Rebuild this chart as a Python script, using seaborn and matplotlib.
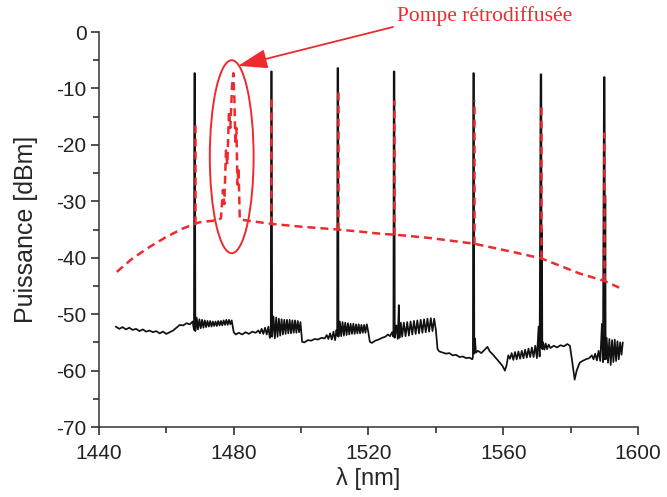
import matplotlib
matplotlib.use("Agg")
import matplotlib.pyplot as plt
from matplotlib.patches import Ellipse
from matplotlib.ticker import MultipleLocator
import seaborn as sns

# black trace: measured spectrum (wavelength nm, power dBm)
black_wl = [
    1445, 1446, 1447, 1448, 1449, 1450, 1451, 1452, 1453, 1454, 1455, 1456, 1457, 1458,
    1459, 1460, 1461, 1462, 1463, 1464, 1465, 1466, 1467, 1467.8,
    1468.2, 1468.3, 1468.5, 1468.6,
    1469.0, 1469.4, 1469.8, 1470.2, 1470.6, 1471.0, 1471.4, 1471.8, 1472.2, 1472.6, 1473.0,
    1473.4, 1473.8, 1474.2, 1474.6, 1475.0, 1475.4, 1475.8, 1476.2, 1476.6, 1477.0, 1477.4,
    1477.8, 1478.2, 1478.6, 1479.0, 1479.4,
    1480.0, 1480.6, 1481.5, 1482.5, 1483.5, 1484.5, 1485.5, 1486.5, 1487.3, 1487.8, 1488.3,
    1488.8, 1489.3, 1489.8, 1490.3, 1490.7,
    1491.0, 1491.1, 1491.3, 1491.4,
    1491.8, 1492.2, 1492.6, 1493.0, 1493.4, 1493.8, 1494.2, 1494.6, 1495.0, 1495.4, 1495.8,
    1496.2, 1496.6, 1497.0, 1497.4, 1497.8, 1498.2, 1498.6, 1499.0, 1499.4, 1499.8,
    1500.3, 1501.0, 1502.0, 1503.0, 1504.0, 1505.0, 1506.0, 1507.0, 1507.6, 1508.1, 1508.6,
    1509.1, 1509.6, 1510.1, 1510.5,
    1510.7, 1510.8, 1511.0, 1511.1,
    1511.5, 1511.9, 1512.3, 1512.7, 1513.1, 1513.5, 1513.9, 1514.3, 1514.7, 1515.1, 1515.5,
    1515.9, 1516.3, 1516.7, 1517.1, 1517.5, 1517.9, 1518.3, 1518.7, 1519.1, 1519.5, 1519.9,
    1520.4, 1521.0, 1522.0, 1523.0, 1524.0, 1525.0, 1525.8, 1526.4, 1527.0,
    1527.4, 1527.5, 1527.7, 1527.8, 1528.3, 1528.7, 1529.0, 1529.2,
    1529.6, 1530.0, 1530.5, 1531.0, 1531.5, 1532.0, 1532.5, 1533.0, 1533.5, 1534.0, 1534.5,
    1535.0, 1535.5, 1536.0, 1536.5, 1537.0, 1537.5, 1538.0, 1538.5, 1539.0, 1539.5, 1540.0,
    1540.5, 1541.0, 1542.0, 1543.0, 1544.0, 1545.0, 1546.0, 1547.0, 1548.0, 1549.0, 1550.0,
    1550.8,
    1551.0, 1551.1, 1551.3, 1551.4, 1551.6, 1551.9,
    1552.5, 1553.5, 1554.5, 1555.3, 1556.0, 1557.0, 1558.0, 1559.0, 1559.8, 1560.5, 1561.0,
    1561.5,
    1562.0, 1562.5, 1563.0, 1563.5, 1564.0, 1564.5, 1565.0, 1565.5, 1566.0, 1566.5, 1567.0,
    1567.5, 1568.0, 1568.5, 1569.0, 1569.5, 1570.0, 1570.5, 1570.8,
    1571.1, 1571.3, 1571.4, 1571.5, 1571.6,
    1571.8, 1572.2, 1572.6, 1573.0, 1573.5, 1574.0, 1575.0, 1576.0, 1577.0, 1578.0, 1579.0,
    1579.8, 1580.5, 1581.2, 1581.8, 1582.7, 1583.5, 1584.5, 1585.5, 1586.3, 1586.8, 1587.3,
    1587.8, 1588.3, 1588.8, 1589.3, 1589.6,
    1589.9, 1590.1, 1590.2, 1590.3, 1590.4,
    1590.7, 1591.1, 1591.5, 1591.9, 1592.3, 1592.7, 1593.1, 1593.5, 1593.9, 1594.3, 1594.7,
    1595.1, 1595.5,
]
black_db = [
    -52.2, -52.6, -52.3, -52.7, -52.4, -52.8, -52.6, -53.0, -52.7, -53.1, -52.9, -53.2, -53.0, -53.4,
    -53.1, -53.5, -53.2, -52.9, -52.4, -51.9, -52.0, -51.6, -51.8, -51.3,
    -52.8, -7.3, -7.3, -53.0,
    -50.6, -52.7, -50.9, -52.5, -51.0, -52.4, -51.1, -52.3, -51.2, -52.2, -51.2,
    -52.2, -51.3, -52.1, -51.3, -52.1, -51.2, -52.0, -51.2, -52.0, -51.1, -51.9,
    -51.0, -51.9, -51.0, -51.8, -51.1,
    -53.2, -53.6, -53.3, -53.6, -53.2, -53.5, -53.1, -53.3, -52.9, -53.4, -52.6,
    -53.5, -52.4, -53.6, -52.2, -54.2,
    -53.5, -7.0, -7.0, -54.0,
    -50.4, -54.3, -50.6, -54.0, -50.8, -53.8, -50.9, -53.6, -51.0, -53.5, -51.0,
    -53.4, -51.0, -53.4, -51.1, -53.3, -51.1, -53.3, -51.2, -53.2, -51.4,
    -54.9, -55.0, -54.6, -54.7, -54.4, -54.5, -54.2, -54.3, -53.7, -54.4, -53.4,
    -54.5, -53.1, -54.6, -52.8,
    -53.8, -6.4, -6.4, -54.0,
    -51.3, -53.9, -51.4, -53.8, -51.5, -53.7, -51.6, -53.6, -51.7, -53.5, -51.7,
    -53.5, -51.8, -53.4, -51.8, -53.4, -51.9, -53.3, -51.9, -53.3, -51.8, -53.0,
    -54.9, -55.1, -54.7, -54.5, -54.2, -54.0, -53.6, -53.9, -53.2,
    -54.0, -7.0, -7.0, -54.2, -52.0, -54.4, -48.4, -54.2,
    -51.5, -54.0, -51.5, -53.9, -51.4, -53.8, -51.3, -53.6, -51.2, -53.5, -51.1,
    -53.4, -51.0, -53.3, -50.9, -53.2, -50.8, -53.1, -50.7, -53.0, -50.8, -52.8,
    -56.2, -56.6, -56.8, -57.0, -56.9, -57.3, -57.2, -57.6, -57.5, -57.8, -57.7,
    -58.0,
    -57.6, -7.3, -7.3, -57.0, -54.3, -56.8,
    -56.5, -56.9, -56.3, -55.8, -56.6, -57.2, -57.9, -58.6, -59.2, -60.0, -59.0,
    -57.3,
    -57.9, -56.9, -58.1, -56.7, -58.0, -56.6, -57.9, -56.5, -57.8, -56.3, -57.7,
    -56.1, -57.6, -55.9, -57.6, -55.6, -57.8, -52.2, -57.5,
    -7.5, -7.5, -56.0, -35.0, -56.2,
    -55.0, -56.3, -55.2, -56.2, -55.4, -56.0, -55.6, -55.9, -55.5, -55.7, -55.3,
    -55.6, -58.5, -61.6, -60.0, -58.6, -58.3, -58.0, -57.8, -57.3, -58.0, -57.0,
    -58.2, -56.5, -58.3, -51.7, -58.5,
    -8.0, -8.0, -58.0, -29.0, -58.0,
    -54.2, -58.6, -54.4, -59.0, -54.6, -58.5, -54.5, -58.3, -54.8, -58.0, -55.0,
    -57.2, -55.0,
]

# red dashed trace: ASE background with the backscattered pump
red_wl = [
    1445.3, 1450, 1455, 1460, 1465, 1468.4, 1470, 1473, 1475.5,
    1476.2, 1476.8, 1477.2, 1477.7, 1478.1, 1478.6, 1479.0, 1479.5, 1479.9, 1480.2,
    1480.5, 1480.8, 1481.1, 1481.4, 1481.8,
    1485, 1491.2, 1500, 1510.9, 1518, 1524.4, 1527.6, 1538.2, 1551.2, 1563,
    1571.2, 1582.7, 1590.0, 1594.4,
]
red_db = [
    -42.5, -40.1, -38.1, -36.3, -34.8, -34.0, -33.7, -33.5, -33.3,
    -33.0, -28.0, -30.5, -21.0, -23.5, -14.0, -17.0, -9.5, -7.3, -12.0,
    -20.0, -17.0, -27.0, -24.0, -33.2,
    -33.5, -34.0, -34.5, -35.0, -35.4, -35.8, -35.9, -36.5, -37.5, -39.0,
    -40.1, -42.8, -44.1, -45.3,
]
# red trace on the laser lines (top of each red spike)
laser_wl = [1468.4, 1491.2, 1510.9, 1527.6, 1551.2, 1571.2, 1590.0]
laser_red_top = [-15.6, -11.5, -10.3, -12.0, -12.0, -12.4, -17.7]

x_ticks = [1440, 1480, 1520, 1560, 1600]
y_ticks = [0, -10, -20, -30, -40, -50, -60, -70]

RED = "#ee2a2f"

sns.set_style("ticks")
plt.rcParams["font.family"] = ["Liberation Sans", "DejaVu Sans"]
plt.rcParams["axes.unicode_minus"] = False

fig = plt.figure(figsize=(6.67, 4.97), dpi=100)
ax = fig.add_axes([0.1484, 0.1408, 0.8081, 0.7948])

sns.lineplot(x=black_wl, y=black_db, sort=False, estimator=None, color="#111111",
             lw=1.25, ax=ax)
sns.lineplot(x=red_wl, y=red_db, sort=False, estimator=None, color=RED,
             lw=1.8, ax=ax)
ax.lines[-1].set_dashes((3.2, 2.0))

# red spikes go from the ASE curve up to their tops
red_at = dict(zip(red_wl, red_db))
base = [red_at[w] for w in laser_wl]
ax.vlines(laser_wl, base, laser_red_top, colors=RED, lw=1.8,
          linestyles=[(0, (3.2, 2.0))])

# circle around the backscattered pump + arrow and label
ax.add_patch(Ellipse((1479.4, -22.1), 13, 34.2, fill=False, edgecolor=RED, lw=1.4))
ax.annotate("", xy=(1481.3, -6.0), xycoords="data",
            xytext=(393 / 667, 1 - 27 / 497), textcoords="figure fraction",
            arrowprops=dict(arrowstyle="-|>,head_length=0.9,head_width=0.3",
                            color=RED, lw=1.3, mutation_scale=20,
                            shrinkA=0, shrinkB=0),
            annotation_clip=False)
fig.text(397 / 667, 1 - 16 / 497, "Pompe rétrodiffusée", color=RED,
         family=["Liberation Serif", "DejaVu Serif"], fontsize=15.5,
         ha="left", va="center")

ax.set_xlim(1440, 1600)
ax.set_ylim(-70, 0)
ax.set_xticks(x_ticks)
ax.set_yticks(y_ticks)
ax.xaxis.set_minor_locator(MultipleLocator(20))
ax.yaxis.set_minor_locator(MultipleLocator(5))
ax.tick_params(which="major", direction="out", length=6, width=1.1,
               labelsize=15, colors="#222222")
ax.tick_params(axis="x", which="major", pad=6)
ax.tick_params(axis="y", which="major", pad=3)
ax.tick_params(which="minor", direction="out", length=4, width=1.1, colors="#222222")

sns.despine(ax=ax)
for side in ["left", "bottom"]:
    ax.spines[side].set_linewidth(1.1)
    ax.spines[side].set_color("#333333")

ax.set_xlabel("λ [nm]", fontsize=17, labelpad=3)
ax.set_ylabel("Puissance [dBm]", fontsize=18, labelpad=13)

fig.savefig("out.png", dpi=100)
